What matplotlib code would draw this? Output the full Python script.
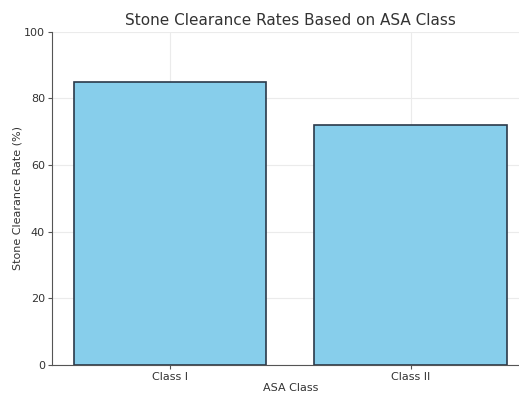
import matplotlib
matplotlib.use('Agg')
import matplotlib.pyplot as plt

categories = ['Class I', 'Class II']
clearance = [85, 72]

fig = plt.figure(figsize=(5.19, 3.93), dpi=100)
ax = fig.add_axes([0.100, 0.071, 0.919, 0.848])

ax.bar(categories, clearance, color='skyblue', edgecolor='#2b3a4a', linewidth=1.2, zorder=2)
ax.set_ylim(0, 100)
ax.grid(True, color='#ebebeb', linewidth=0.8, zorder=0)

for s in ['top', 'right']:
    ax.spines[s].set_visible(False)
for s in ['left', 'bottom']:
    ax.spines[s].set_color('#555555')
ax.tick_params(colors='#555555', labelcolor='#333333', labelsize=8, length=3, pad=2)

ax.set_title('Stone Clearance Rates Based on ASA Class', fontsize=11, color='#333333', pad=5)
ax.set_xlabel('ASA Class', fontsize=8, color='#333333', labelpad=1)
ax.set_ylabel('Stone Clearance Rate (%)', fontsize=8, color='#333333', labelpad=1)

fig.savefig('out.png', dpi=100)
